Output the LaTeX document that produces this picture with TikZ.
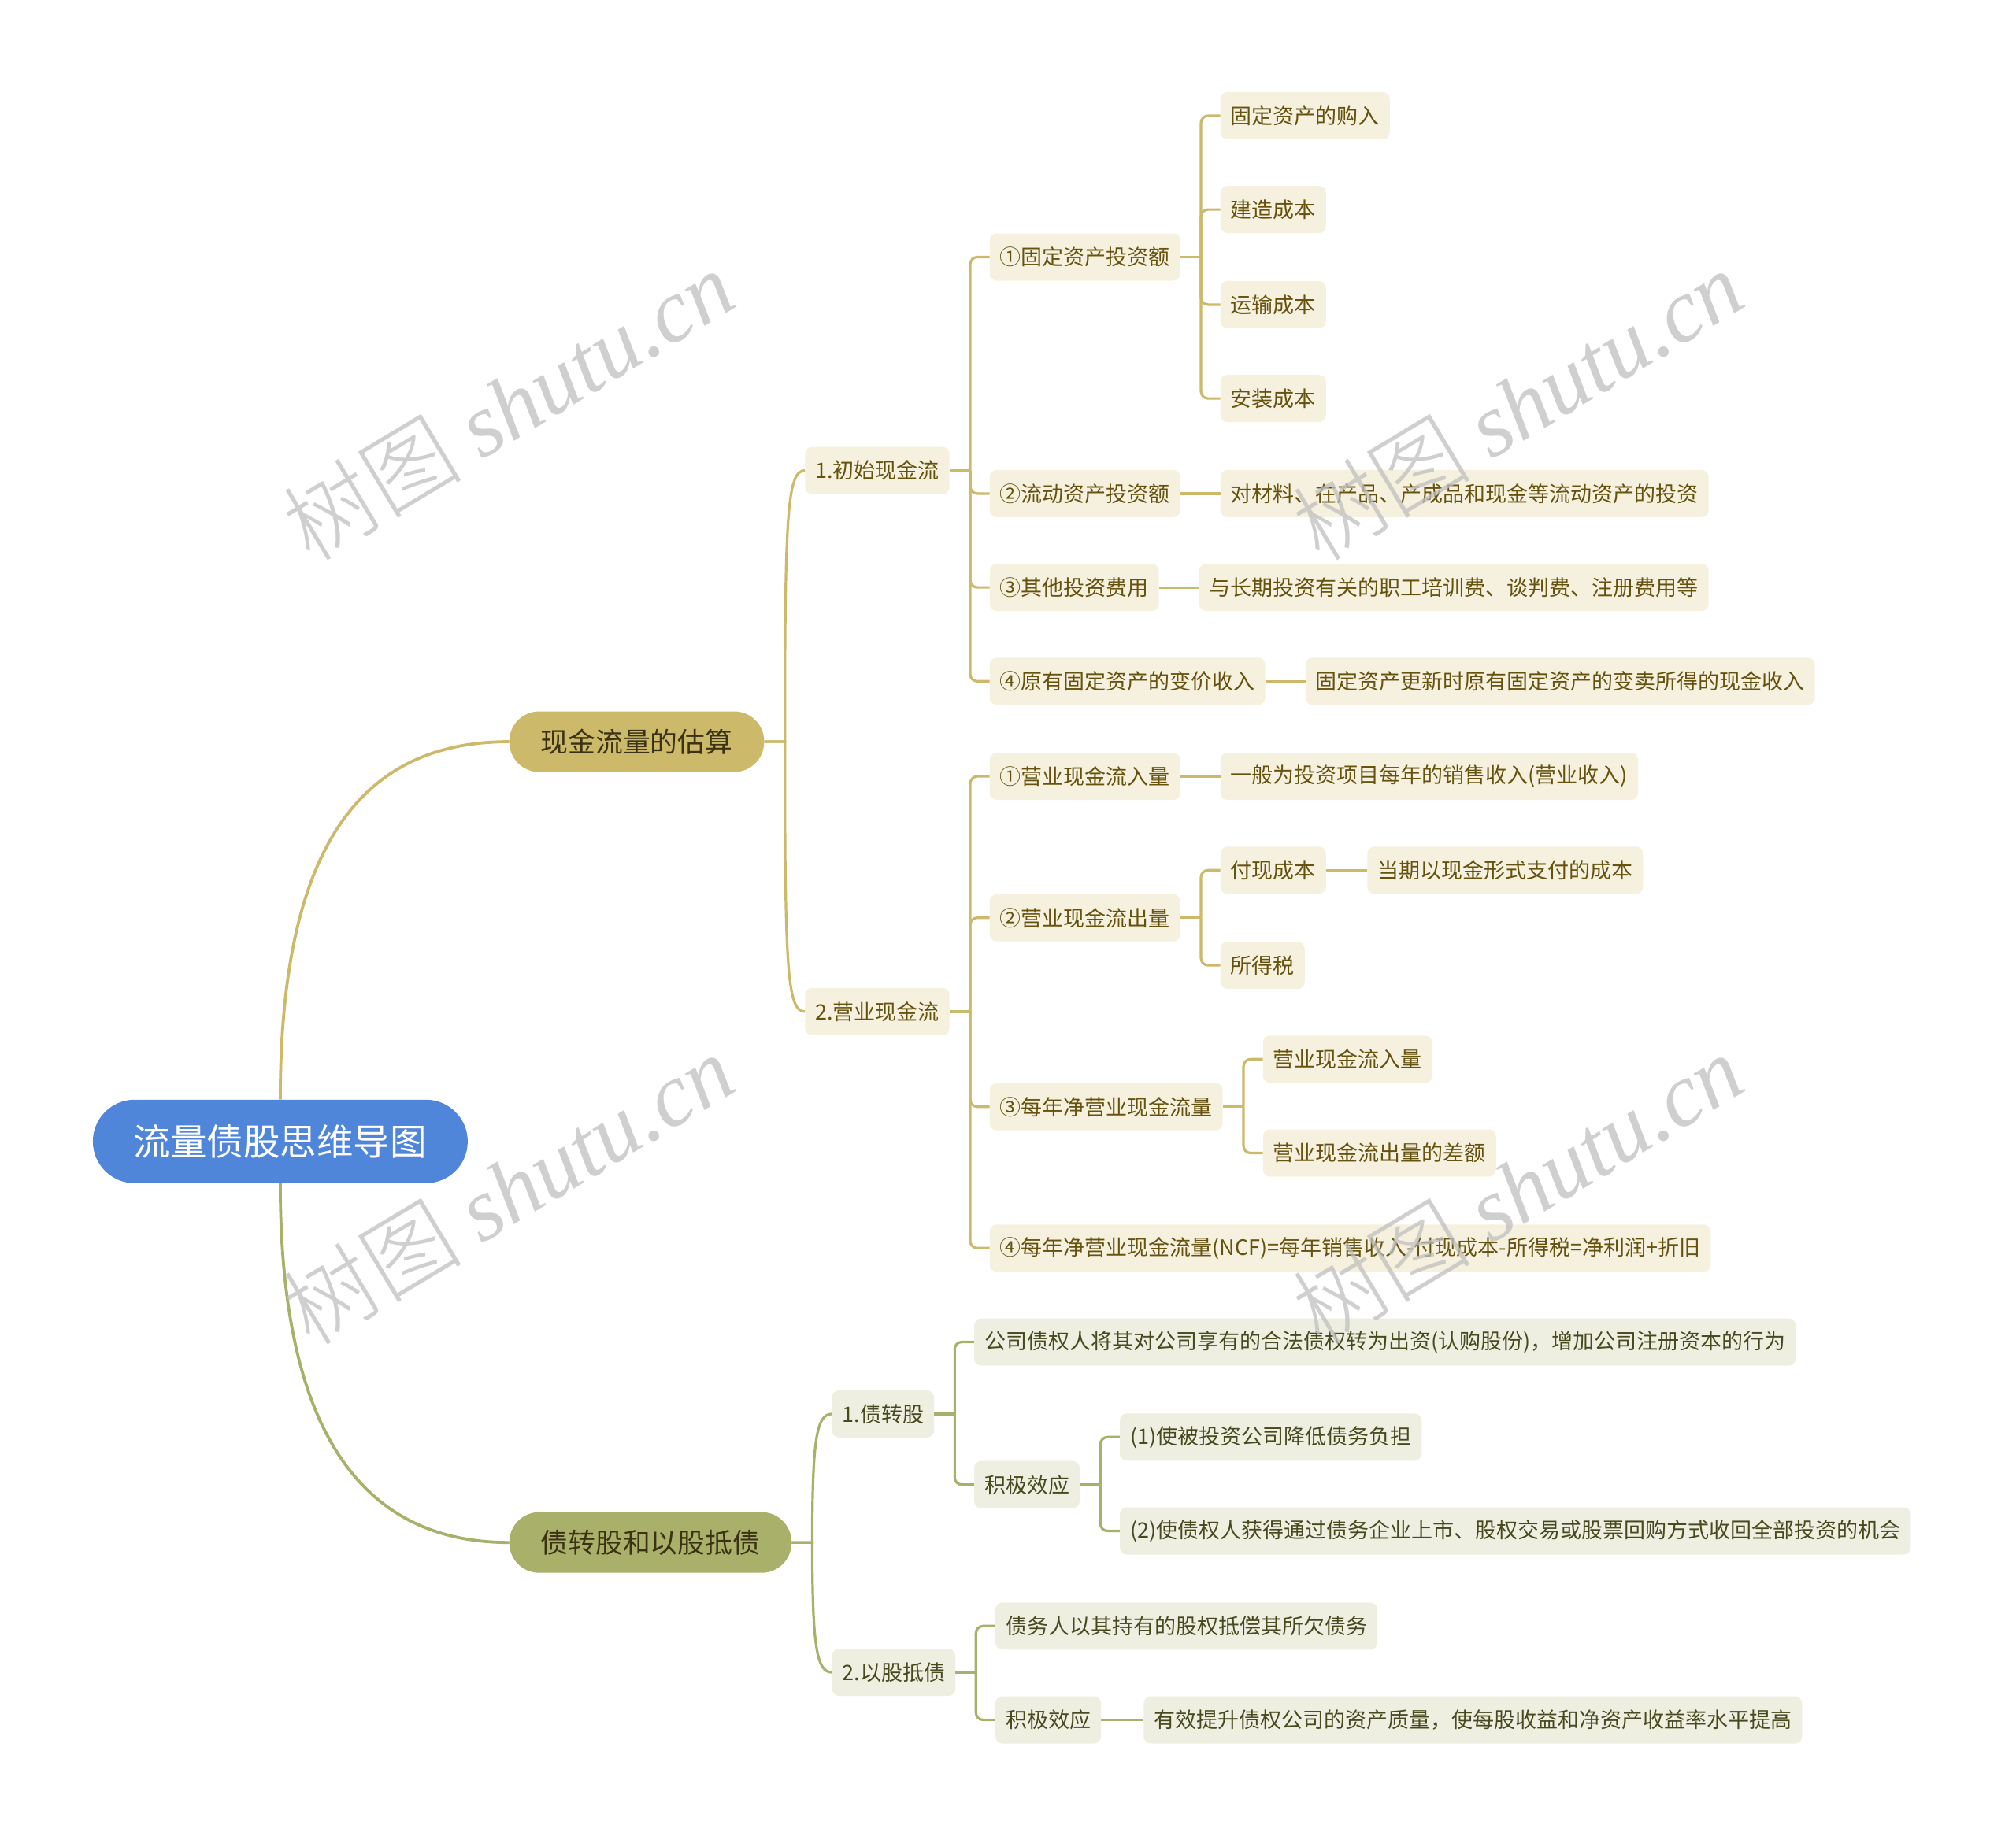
\documentclass[tikz,border=0pt]{standalone}
\usepackage{fontspec}
\setmainfont{Noto Sans CJK SC}
\newfontfamily\wmlatin{Liberation Serif}
\newfontfamily\wmcjk{Noto Sans CJK SC Light}
\usetikzlibrary{calc}
\definecolor{rootblue}{HTML}{4F86DA}
\definecolor{gold}{HTML}{CDB96A}
\definecolor{olive}{HTML}{A8B06A}
\definecolor{cream}{HTML}{F6F1DE}
\definecolor{goldtext}{HTML}{65520F}
\definecolor{oliveback}{HTML}{EFEFE1}
\definecolor{olivetext}{HTML}{474A1E}
\definecolor{pilltext}{HTML}{3A3212}
\tikzset{
  lvl/.style={rounded corners=9pt, inner xsep=13pt, inner ysep=0pt, minimum height=60pt, anchor=west, font=\fontsize{27}{30}\selectfont},
  gbox/.style={lvl, fill=cream, text=goldtext},
  obox/.style={lvl, fill=oliveback, text=olivetext},
  pill/.style={rounded corners=38pt, inner xsep=40pt, inner ysep=0pt, minimum height=77pt, anchor=west, font=\fontsize{34.8}{38}\selectfont},
  gpill/.style={pill, fill=gold, text=pilltext},
  opill/.style={pill, fill=olive, text=pilltext},
  rootnode/.style={rounded corners=53pt, inner xsep=52pt, inner ysep=0pt, minimum height=106pt, fill=rootblue, text=white, font=\fontsize{46.5}{50}\selectfont},
  gline/.style={draw=gold, line width=3.2pt},
  oline/.style={draw=olive, line width=3.2pt},
  wm/.style={text=black!25, text opacity=0.75, font=\fontsize{114}{120}\selectfont, rotate=31},
}
\newcommand\fork[3][gline]{%
  \draw[#1] (#2.east) -- ++(16,0);
  \foreach \c in {#3} {\draw[#1, rounded corners=9pt] ($(#2.east)+(16,0)$) |- (\c.west);}
}
\begin{document}
\begin{tikzpicture}[x=1.6327pt,y=-1.6327pt]
\fill[white] (0,0) rectangle (1568,1428);
\useasboundingbox (0,0) rectangle (1568,1428);

% root and main branches
\node[rootnode] (root) at (218,888) {流量债股思维导图};
\node[gpill] (b1) at (396,577) {现金流量的估算};
\node[opill] (b2) at (396,1200) {债转股和以股抵债};

% branch 1
\node[gbox] (a1) at (626,366) {1.初始现金流};
\node[gbox] (a2) at (626,787) {2.营业现金流};

\node[gbox] (a11) at ($(a1.east)+(31,-166)$) {①固定资产投资额};
\node[gbox] (a12) at ($(a1.east)+(31,18)$) {②流动资产投资额};
\node[gbox] (a13) at ($(a1.east)+(31,91)$) {③其他投资费用};
\node[gbox] (a14) at ($(a1.east)+(31,164)$) {④原有固定资产的变价收入};

\node[gbox] (a111) at ($(a11.east)+(31,-110)$) {固定资产的购入};
\node[gbox] (a112) at ($(a11.east)+(31,-37)$) {建造成本};
\node[gbox] (a113) at ($(a11.east)+(31,37)$) {运输成本};
\node[gbox] (a114) at ($(a11.east)+(31,110)$) {安装成本};
\node[gbox] (a121) at ($(a12.east)+(31,0)$) {对材料、在产品、产成品和现金等流动资产的投资};
\node[gbox] (a131) at ($(a13.east)+(31,0)$) {与长期投资有关的职工培训费、谈判费、注册费用等};
\node[gbox] (a141) at ($(a14.east)+(31,0)$) {固定资产更新时原有固定资产的变卖所得的现金收入};

\node[gbox] (a21) at ($(a2.east)+(31,-183)$) {①营业现金流入量};
\node[gbox] (a22) at ($(a2.east)+(31,-73)$) {②营业现金流出量};
\node[gbox] (a23) at ($(a2.east)+(31,74)$) {③每年净营业现金流量};
\node[gbox] (a24) at ($(a2.east)+(31,184)$) {④每年净营业现金流量(NCF)=每年销售收入-付现成本-所得税=净利润+折旧};

\node[gbox] (a211) at ($(a21.east)+(31,0)$) {一般为投资项目每年的销售收入(营业收入)};
\node[gbox] (a221) at ($(a22.east)+(31,-37)$) {付现成本};
\node[gbox] (a222) at ($(a22.east)+(31,37)$) {所得税};
\node[gbox] (a2211) at ($(a221.east)+(32,0)$) {当期以现金形式支付的成本};
\node[gbox] (a231) at ($(a23.east)+(31,-37)$) {营业现金流入量};
\node[gbox] (a232) at ($(a23.east)+(31,36)$) {营业现金流出量的差额};

% branch 2
\node[obox] (c1) at (647,1100) {1.债转股};
\node[obox] (c2) at (647,1301) {2.以股抵债};
\node[obox] (c11) at ($(c1.east)+(31,-56)$) {公司债权人将其对公司享有的合法债权转为出资(认购股份)，增加公司注册资本的行为};
\node[obox] (c12) at ($(c1.east)+(31,55)$) {积极效应};
\node[obox] (c121) at ($(c12.east)+(31,-37)$) {(1)使被投资公司降低债务负担};
\node[obox] (c122) at ($(c12.east)+(31,36)$) {(2)使债权人获得通过债务企业上市、股权交易或股票回购方式收回全部投资的机会};
\node[obox] (c21) at ($(c2.east)+(31,-36)$) {债务人以其持有的股权抵偿其所欠债务};
\node[obox] (c22) at ($(c2.east)+(31,37)$) {积极效应};
\node[obox] (c221) at ($(c22.east)+(33,0)$) {有效提升债权公司的资产质量，使每股收益和净资产收益率水平提高};

% root connectors
\draw[gline, line width=3.8pt] (root.north) .. controls +(0,-196) and +(-116,0) .. (b1.west);
\draw[oline, line width=3.8pt] (root.south) .. controls +(0,200) and +(-110,0) .. (b2.west);

% branch 1 connectors
\draw[gline] (b1.east) -- ++(16,0) .. controls +(0,-175) and +(-14,0) .. (a1.west);
\draw[gline] (b1.east) -- ++(16,0) .. controls +(0,175) and +(-14,0) .. (a2.west);
\fork{a1}{a11,a12,a13,a14}
\fork{a11}{a111,a112,a113,a114}
\draw[gline] (a12.east) -- (a121.west);
\draw[gline] (a13.east) -- (a131.west);
\draw[gline] (a14.east) -- (a141.west);
\fork{a2}{a21,a22,a23,a24}
\draw[gline] (a21.east) -- (a211.west);
\fork{a22}{a221,a222}
\draw[gline] (a221.east) -- (a2211.west);
\fork{a23}{a231,a232}

% branch 2 connectors
\draw[oline] (b2.east) -- ++(16,0) .. controls +(0,-80) and +(-12,0) .. (c1.west);
\draw[oline] (b2.east) -- ++(16,0) .. controls +(0,80) and +(-12,0) .. (c2.west);
\fork[oline]{c1}{c11,c12}
\fork[oline]{c12}{c121,c122}
\fork[oline]{c2}{c21,c22}
\draw[oline] (c22.east) -- (c221.west);

% watermarks
\node[wm] (w1) at (395,315) {{\wmcjk 树图} {\wmlatin\itshape shutu.cn}};
\node[wm] (w2) at (1180,315) {{\wmcjk 树图} {\wmlatin\itshape shutu.cn}};
\node[wm] (w3) at (395,925) {{\wmcjk 树图} {\wmlatin\itshape shutu.cn}};
\node[wm] (w4) at (1180,925) {{\wmcjk 树图} {\wmlatin\itshape shutu.cn}};
\end{tikzpicture}
\end{document}
